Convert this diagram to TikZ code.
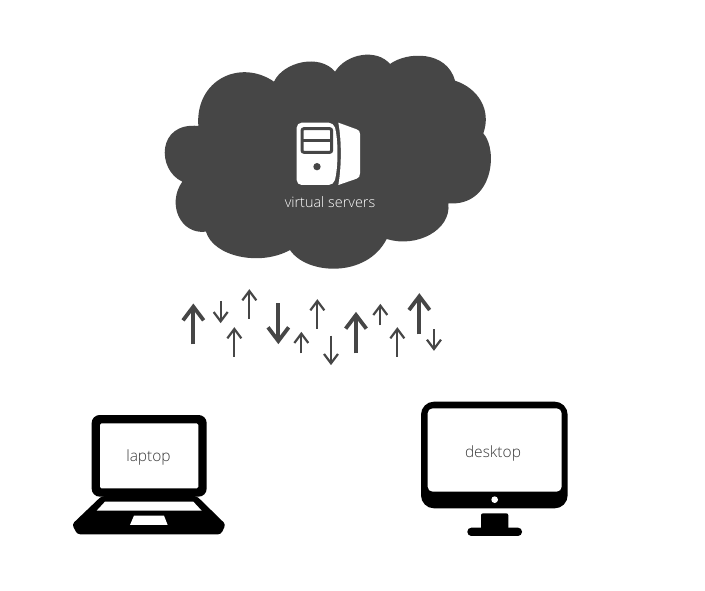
\documentclass[tikz,border=0pt]{standalone}
\usepackage{fontspec}
\setmainfont{Open Sans Light}
\definecolor{cloudgrey}{HTML}{464646}
\definecolor{labelgrey}{HTML}{383838}
\tikzset{
  x=1pt,y=-1pt,
  thickarrow/.style={draw=cloudgrey,line width=3.8pt,line join=miter},
  thinarrow/.style={draw=cloudgrey,line width=2.2pt,line join=miter},
  devicelabel/.style={text=labelgrey,font=\fontsize{15.5}{16}\selectfont,inner sep=0pt},
  cutout/.style={fill=white,draw=none},
  device/.style={fill=black,draw=none}
}
\begin{document}
\begin{tikzpicture}
\useasboundingbox (0,0) rectangle (705,591);
\fill[white] (0,0) rectangle (705,591);
% cloud
\begin{scope}[xshift=150pt,yshift=-40pt,scale=1/3]
\fill[cloudgrey] (145,258)
 .. controls (135,120) and (270,55) .. (372,125)
 .. controls (400,65) and (510,40) .. (555,95)
 .. controls (590,40) and (680,25) .. (720,72)
 .. controls (770,35) and (890,30) .. (915,122)
 .. controls (985,145) and (1025,210) .. (1000,280)
 .. controls (1045,330) and (1030,500) .. (895,490)
 .. controls (905,570) and (800,625) .. (710,597)
 .. controls (650,715) and (470,705) .. (420,630)
 .. controls (330,680) and (190,650) .. (168,575)
 .. controls (90,585) and (50,490) .. (97,425)
 .. controls (20,390) and (20,245) .. (145,258) -- cycle;
\end{scope}
% server
\begin{scope}[xshift=275pt,yshift=-110pt,scale=1/3]
\fill[white,rounded corners=5pt] (65,38) -- (176,38) .. controls (190,90) and (190,170) .. (176,225) -- (65,225) -- cycle;
\fill[white] (190,38) -- (245,58) .. controls (252,60) and (255,65) .. (255,72) -- (255,190)
  .. controls (255,198) and (252,204) .. (245,206) -- (190,225) .. controls (200,170) and (200,90) .. (190,38) -- cycle;
\draw[cloudgrey,line width=3pt,fill=white,rounded corners=2pt] (81,56) rectangle (170,127);
\draw[cloudgrey,line width=3pt] (81,91) -- (170,91);
\fill[cloudgrey] (126,170) circle (11);
\end{scope}
\node[text=white,inner sep=0pt,font=\fontsize{14.4}{16}\selectfont] (vs) at (330,202.5) {virtual servers};
% arrows
\begin{scope}[xshift=170pt,yshift=-280pt,scale=1/3]
\foreach \x/\a/\b/\w/\h/\st in {70/193/80/31/41/thickarrow,325/70/183/31/41/thickarrow,558/220/105/31/41/thickarrow,748/163/49/31/41/thickarrow,
 152/63/124/21/28/thinarrow,238/117/33/21/28/thinarrow,193/230/147/21/28/thinarrow,394/220/161/21/28/thinarrow,442/147/63/21/28/thinarrow,483/167/250/21/28/thinarrow,631/136/77/21/28/thinarrow,682/230/147/21/28/thinarrow,792/148/207/21/28/thinarrow}{
  \pgfmathsetmacro{\sgn}{\b<\a ? 1 : -1}
  \draw[\st] (\x,\a) -- (\x,\b);
  \draw[\st] (\x-\w,\b+\sgn*\h) -- (\x,\b) -- (\x+\w,\b+\sgn*\h);
}
\end{scope}
% laptop
\begin{scope}[xshift=60pt,yshift=-395pt,scale=1/3]
\fill[device,rounded corners=8pt] (95,60) rectangle (440,305);
\fill[cutout,rounded corners=1.5pt] (120,85) rectangle (415,280);
\fill[device,rounded corners=3pt] (125,303) -- (410,303) -- (497,388) -- (483,418) -- (52,418) -- (36,388) -- cycle;
\fill[cutout] (135,320) -- (400,320) -- (425,347) -- (110,347) -- cycle;
\fill[cutout] (222,362) -- (312,362) -- (323,390) -- (210,390) -- cycle;
\end{scope}
\node[devicelabel] (lap) at (148.5,457) {laptop};
% desktop
\begin{scope}[xshift=410pt,yshift=-395pt,scale=1/3]
\fill[device,rounded corners=13pt] (33,20) rectangle (473,340);
\fill[cutout,rounded corners=5pt] (53,40) rectangle (455,290);
\fill[white] (254,314) circle (10);
\fill[device,rounded corners=2pt] (213,355) rectangle (295,405);
\fill[device,rounded corners=4pt] (172,398) rectangle (336,423);
\end{scope}
\node[devicelabel] (desk) at (493,453) {desktop};
\end{tikzpicture}
\end{document}
